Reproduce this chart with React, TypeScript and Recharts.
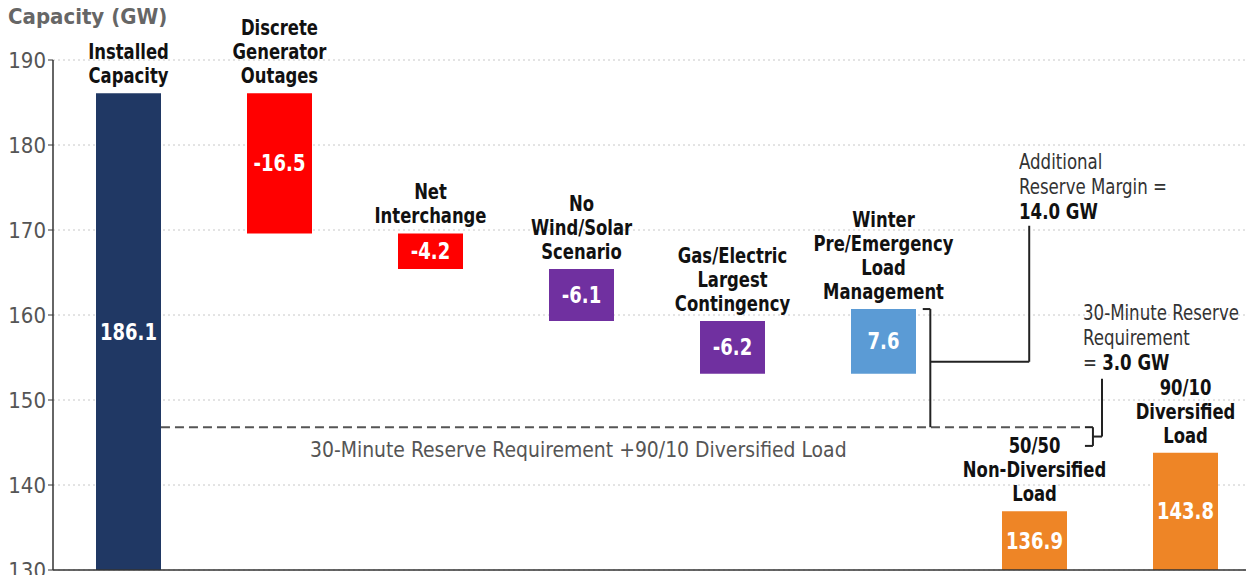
import React from "react";
import { ComposedChart, Bar, Cell, XAxis, YAxis, CartesianGrid, ReferenceLine, LabelList } from "recharts";

const categories = [
  "Installed Capacity",
  "Discrete Generator Outages",
  "Net Interchange",
  "No Wind/Solar Scenario",
  "Gas/Electric Largest Contingency",
  "Winter Pre/Emergency Load Management",
  "50/50 Non-Diversified Load",
  "90/10 Diversified Load",
];
const categoryLines = [
  ["Installed", "Capacity"],
  ["Discrete", "Generator", "Outages"],
  ["Net", "Interchange"],
  ["No", "Wind/Solar", "Scenario"],
  ["Gas/Electric", "Largest", "Contingency"],
  ["Winter", "Pre/Emergency", "Load", "Management"],
  ["50/50", "Non-Diversified", "Load"],
  ["90/10", "Diversified", "Load"],
];
const barLow = [130, 169.6, 165.4, 159.3, 153.1, 153.1, 130, 130];
const barHigh = [186.1, 186.1, 169.6, 165.4, 159.3, 160.7, 136.9, 143.8];
const valueLabels = ["186.1", "-16.5", "-4.2", "-6.1", "-6.2", "7.6", "136.9", "143.8"];
const barColors = ["#203864", "#ff0000", "#ff0000", "#7030a0", "#7030a0", "#5b9bd5", "#ee8526", "#ee8526"];
const yTicks = [130, 140, 150, 160, 170, 180, 190];

// reserve annotation levels (GW)
const reserveLine = 146.8; // 30-min reserve + 90/10 load
const reserveLow = 144.6;
const marginMid = 154.5;
const marginTop = 170.5;
const reserveTop = 152.5;

const data = categories.map((name, i) => ({ name, pos: i + 0.5, range: [barLow[i], barHigh[i]] }));

const FONT = "'Liberation Sans Narrow', 'DejaVu Sans Condensed', 'DejaVu Sans', sans-serif";
const LINE = "#222";
const SQUEEZE = 0.87;

function CategoryLabel(props: any) {
  const { x, y, width, height, index } = props;
  const top = Math.min(y, y + height);
  const lines = categoryLines[index];
  const cx = x + width / 2;
  return (
    <text
      transform={`translate(${cx} ${top - 10}) scale(${SQUEEZE} 1)`}
      textAnchor="middle"
      fontFamily={FONT}
      fontWeight="bold"
      fontSize={21}
      fill="#111"
    >
      {lines.map((l, k) => (
        <tspan key={k} x={0} y={-(lines.length - 1 - k) * 24}>
          {l}
        </tspan>
      ))}
    </text>
  );
}

function ValueLabel(props: any) {
  const { x, y, width, height, index } = props;
  const top = Math.min(y, y + height);
  return (
    <text
      transform={`translate(${x + width / 2} ${top + Math.abs(height) / 2 + 8}) scale(${SQUEEZE} 1)`}
      textAnchor="middle"
      fontFamily={FONT}
      fontWeight="bold"
      fontSize={23}
      fill="#fff"
    >
      {valueLabels[index]}
    </text>
  );
}

const seg = (x1: number, y1: number, x2: number, y2: number, dash?: string, color = LINE) => (
  <ReferenceLine
    xAxisId="pos"
    segment={[{ x: x1, y: y1 }, { x: x2, y: y2 }]}
    stroke={color}
    strokeWidth={2}
    strokeDasharray={dash}
    ifOverflow="visible"
  />
);

export default function App() {
  const txt: React.CSSProperties = {
    position: "absolute",
    fontFamily: FONT,
    fontSize: 21,
    color: "#333",
    lineHeight: "25px",
    whiteSpace: "nowrap",
    transform: "scaleX(0.88)",
    transformOrigin: "left top",
  };
  return (
    <div style={{ position: "relative", width: 1246, height: 575, overflow: "hidden", background: "#fff" }}>
      <style>{`body{margin:0}`}</style>
      <ComposedChart width={1261} height={575} data={data} margin={{ top: 60, right: 0, left: 0, bottom: 5 }}>
        <CartesianGrid vertical={false} stroke="#c8c8c8" strokeDasharray="2 3" />
        <XAxis dataKey="name" hide />
        <XAxis xAxisId="pos" dataKey="pos" type="number" domain={[0, 8]} allowDataOverflow hide />
        <YAxis
          width={53}
          domain={[130, 190]}
          ticks={yTicks}
          interval={0}
          tick={{ fill: "#555", fontSize: 22, fontFamily: FONT }}
          tickLine={{ stroke: "#333" }}
          tickSize={5}
          axisLine={{ stroke: "#333", strokeWidth: 1.5 }}
        />
        <ReferenceLine y={130} stroke="#333" strokeWidth={1.5} />
        <Bar dataKey="range" barSize={65} isAnimationActive={false}>
          {data.map((d, i) => (
            <Cell key={d.name} fill={barColors[i]} />
          ))}
          <LabelList dataKey="range" content={<CategoryLabel />} />
          <LabelList dataKey="range" content={<ValueLabel />} />
        </Bar>
        {seg(0.715, reserveLine, 6.834, reserveLine, "9 5", "#555")}
        {seg(5.76, barHigh[5], 5.81, barHigh[5])}
        {seg(5.81, barHigh[5], 5.81, reserveLine)}
        {seg(5.81, marginMid, 6.465, marginMid)}
        {seg(6.465, marginMid, 6.465, marginTop)}
        {seg(6.834, reserveLine, 6.887, reserveLine)}
        {seg(6.834, reserveLow, 6.887, reserveLow)}
        {seg(6.887, reserveLine, 6.887, reserveLow)}
        {seg(6.887, (reserveLine + reserveLow) / 2, 6.947, (reserveLine + reserveLow) / 2)}
        {seg(6.947, (reserveLine + reserveLow) / 2, 6.947, reserveTop)}
      </ComposedChart>
      <div style={{ ...txt, left: 8, top: 4, fontWeight: "bold", color: "#666", fontSize: 22, transform: "none" }}>
        Capacity (GW)
      </div>
      <div style={{ ...txt, left: 1019, top: 150 }}>
        Additional
        <br />
        Reserve Margin =
        <br />
        <b style={{ color: "#111" }}>14.0 GW</b>
      </div>
      <div style={{ ...txt, left: 1083, top: 301 }}>
        30-Minute Reserve
        <br />
        Requirement
        <br />= <b style={{ color: "#111" }}>3.0 GW</b>
      </div>
      <div style={{ ...txt, left: 310, top: 437, color: "#555", fontSize: 22, transform: "scaleX(0.95)" }}>
        30-Minute Reserve Requirement +90/10 Diversified Load
      </div>
    </div>
  );
}
